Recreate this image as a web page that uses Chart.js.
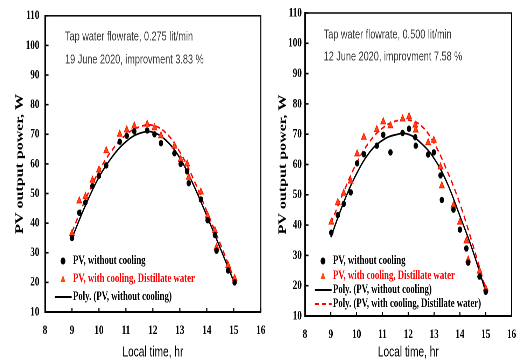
<!DOCTYPE html>
<html>
<head>
<meta charset="utf-8">
<script src="https://cdn.jsdelivr.net/npm/chart.js@4.4.1/dist/chart.umd.min.js"></script>
<style>
html, body { margin:0; padding:0; background:#fff; width:524px; height:363px; overflow:hidden; position:relative; }
/* the original figure is squeezed sideways, so each chart is drawn wide and scaled down */
.box { position:absolute; top:0; height:363px; transform:scaleX(0.7); transform-origin:0 0; }
#leftBox { left:0; width:390px; }
#rightBox { left:262px; width:374px; }
</style>
</head>
<body>
<div class="box" id="leftBox"><canvas id="leftChart"></canvas></div>
<div class="box" id="rightBox"><canvas id="rightChart"></canvas></div>
<script>
//Left panel: 0.275 lit/min, 19 June 2020
var leftTime      = [9.0, 9.27, 9.5, 9.76, 10.0, 10.27, 10.77, 11.03, 11.31, 11.79, 12.06, 12.3, 12.8, 13.03, 13.27, 13.33, 13.78, 14.03, 14.3, 14.36, 14.79, 15.03];
var leftNoCooling = [35, 43.5, 47, 52.5, 56, 59.5, 67.5, 69.5, 71, 71.3, 70, 67, 63.6, 60, 57.5, 53.5, 48, 41, 36, 30.7, 24, 20];
var leftCooling   = [36.5, 47.5, 49, 54.5, 58, 64.5, 70, 71.5, 72.8, 73.4, 72.2, 69.5, 66, 61.5, 60, 55.5, 50.5, 42.5, 37.5, 31.8, 25.7, 21.3];
var leftFitTime      = [9, 9.5, 10, 10.5, 11, 11.5, 12, 12.5, 13, 13.5, 14, 14.5, 15];
var leftFitNoCooling = [35, 46, 55.5, 62.5, 67.5, 70.3, 70.7, 67.8, 62, 53, 42.5, 31.5, 20.3];
var leftFitCooling   = [37, 48, 57.5, 64.8, 69.8, 72.5, 73, 70.3, 64, 55, 44, 33, 21.5];
var leftNotes = ["Tap water flowrate, 0.275 lit/min", "19 June 2020, improvment 3.83 %"];

//Right panel: 0.500 lit/min, 12 June 2020
var rightTime      = [9.02, 9.27, 9.5, 9.77, 10.02, 10.28, 10.78, 11.03, 11.31, 11.78, 12.03, 12.27, 12.29, 12.77, 12.99, 13.25, 13.3, 13.75, 14.0, 14.25, 14.32, 14.76, 15.0];
var rightNoCooling = [37.5, 43.3, 47, 50.8, 60.4, 63.4, 66.2, 69.8, 64, 70.4, 71.8, 69, 66.2, 63.3, 64, 56.4, 48.3, 45.1, 38.5, 32.3, 27.6, 23, 18];
var rightCooling   = [41, 47.4, 50.5, 54.5, 63.5, 69, 71.5, 74.1, 72.8, 75, 75.8, 73, 71.4, 67.2, 68, 59.2, 53, 46.5, 41, 34.8, 28.5, 24.8, 19];
var rightFitTime      = [9, 9.5, 10, 10.5, 11, 11.5, 12, 12.5, 13, 13.5, 14, 14.5, 15];
var rightFitNoCooling = [36, 47.5, 57, 64, 68, 69.8, 70, 67, 62, 54, 43, 31.5, 18];
var rightFitCooling   = [40.5, 51, 60.5, 67.5, 72, 74.3, 74.7, 72.8, 67, 58, 47, 33.5, 19];
var rightNotes = ["Tap water flowrate, 0.500 lit/min", "12 June 2020, improvment 7.58 %"];

//Shared labels
var seriesLabels = ["PV, without cooling", "PV, with cooling, Distillate water",
                    "Poly. (PV, without cooling)", "Poly. (PV, with cooling, Distillate water)"];
var xTitle = "Local time, hr";
var yTitle = "PV output power, W";

var serif = "'Liberation Serif', 'Times New Roman', serif";
var sans = "'Liberation Sans', Arial, sans-serif";

function pairs(xs, ys){
  var out = [];
  for(var i = 0; i < xs.length; i++){
    out.push({x: xs[i], y: ys[i]});
  }
  return out;
}

//Draws frame, inner ticks, notes and the legend
var decorPlugin = {
  id: 'decor',
  afterDraw: function(chart){
    var o = chart.options.plugins.decor;
    var ctx = chart.ctx, a = chart.chartArea;
    var xs = chart.scales.x, ys = chart.scales.y;
    ctx.save();
    ctx.strokeStyle = '#000';
    ctx.lineWidth = 1.5;
    ctx.strokeRect(a.left, a.top, a.right - a.left, a.bottom - a.top);

    ctx.lineWidth = 1.6;
    ys.ticks.forEach(function(t){
      var y = ys.getPixelForValue(t.value);
      ctx.beginPath(); ctx.moveTo(a.left, y); ctx.lineTo(a.left + 5, y); ctx.stroke();
    });
    xs.ticks.forEach(function(t){
      var x = xs.getPixelForValue(t.value);
      ctx.beginPath(); ctx.moveTo(x, a.bottom); ctx.lineTo(x, a.bottom - 4); ctx.stroke();
    });

    //notes
    ctx.font = '13px ' + sans;
    ctx.fillStyle = '#3a3a3a';
    ctx.textBaseline = 'middle';
    o.notes.forEach(function(txt, i){
      ctx.fillText(txt, a.left + o.noteX, o.noteY[i]);
    });

    //legend
    ctx.font = 'bold 12.5px ' + serif;
    o.legend.forEach(function(idx, row){
      var ds = chart.data.datasets[idx];
      var y = o.legendY[row];
      var mx = a.left + o.markX;
      if(ds.showLine){
        ctx.save();
        ctx.strokeStyle = ds.borderColor;
        ctx.lineWidth = 2;
        ctx.setLineDash(ds.borderDash || []);
        ctx.beginPath(); ctx.moveTo(a.left + o.lineX[0], y); ctx.lineTo(a.left + o.lineX[1], y); ctx.stroke();
        ctx.restore();
      } else if(ds.pointStyle == 'triangle'){
        ctx.fillStyle = ds.backgroundColor;
        ctx.beginPath(); ctx.moveTo(mx, y - 4); ctx.lineTo(mx + 3.5, y + 3); ctx.lineTo(mx - 3.5, y + 3); ctx.closePath(); ctx.fill();
      } else {
        ctx.fillStyle = '#000';
        ctx.beginPath(); ctx.arc(mx, y, 3.5, 0, Math.PI * 2); ctx.fill();
      }
      ctx.fillStyle = ds.textColor;
      ctx.fillText(ds.label, a.left + o.textX, y);
    });
    ctx.restore();
  }
};

function makeChart(id, time, noCool, cool, fitTime, fitNoCool, fitCool, notes, layout){
  var ctx = document.getElementById(id).getContext('2d');
  return new Chart(ctx, {
    type: 'scatter',
    data: {
      datasets: [
        {label: seriesLabels[0], data: pairs(time, noCool), pointStyle: 'circle', pointRadius: 3.2,
         backgroundColor: '#000', borderColor: '#000', borderWidth: 0, textColor: '#000'},
        {label: seriesLabels[1], data: pairs(time, cool), pointStyle: 'triangle', pointRadius: 4,
         backgroundColor: '#ff4a10', borderColor: '#ff1a00', borderWidth: 1, textColor: '#ff0000'},
        {label: seriesLabels[2], data: pairs(fitTime, fitNoCool), showLine: true, pointRadius: 0,
         borderColor: '#000', borderWidth: 1.8, tension: 0.4, textColor: '#000'},
        {label: seriesLabels[3], data: pairs(fitTime, fitCool), showLine: true, pointRadius: 0,
         borderColor: '#ff0000', borderWidth: 1.8, borderDash: [6, 4], tension: 0.4, textColor: '#000'}
      ]
    },
    options: {
      responsive: true,
      maintainAspectRatio: false,
      animation: false,
      devicePixelRatio: 2,
      layout: {padding: {left: 0, top: 13, right: layout.padRight, bottom: 0}},
      plugins: {
        legend: {display: false},
        tooltip: {enabled: false},
        decor: {
          notes: notes, noteX: layout.noteX, noteY: layout.noteY,
          legend: layout.legend, legendY: layout.legendY,
          markX: 25.7, textX: 40, lineX: [14, 38]
        }
      },
      scales: {
        x: {
          type: 'linear', min: 8, max: 16,
          ticks: {stepSize: 1, padding: 11, color: '#000', font: {family: serif, size: 13, weight: 'bold'}},
          grid: {display: false, drawTicks: false},
          border: {display: true, color: '#000', width: 2},
          title: {display: true, text: xTitle, color: '#000', padding: {top: 0, bottom: 2},
                  font: {family: sans, size: 14.5}},
          afterFit: function(s){ s.height = layout.xHeight; }
        },
        y: {
          min: 10, max: 110,
          ticks: {stepSize: 10, padding: layout.yPad, color: '#000', font: {family: serif, size: 13, weight: 'bold'}},
          grid: {display: false, drawTicks: false},
          border: {display: true, color: '#000', width: 2},
          title: {display: true, text: yTitle, color: '#000', padding: {top: layout.yTitlePad, bottom: 0},
                  font: {family: serif, size: 16, weight: 'bold'}},
          afterFit: function(s){ s.width = layout.yWidth; }
        }
      }
    },
    plugins: [decorPlugin]
  });
}

window.onload = function(){
  makeChart('leftChart', leftTime, leftNoCooling, leftCooling, leftFitTime, leftFitNoCooling, leftFitCooling, leftNotes,
    {padRight: 11.4, xHeight: 51, yWidth: 64.3, yPad: 8, yTitlePad: 19,
     noteX: 28.6, noteY: [37, 60], legend: [0, 1, 2], legendY: [261, 279, 297]});
  makeChart('rightChart', rightTime, rightNoCooling, rightCooling, rightFitTime, rightFitNoCooling, rightFitCooling, rightNotes,
    {padRight: 10, xHeight: 47, yWidth: 61.4, yPad: 4.5, yTitlePad: 20.4,
     noteX: 26.7, noteY: [35, 57], legend: [0, 1, 2, 3], legendY: [261, 276, 290, 304]});
};
</script>
</body>
</html>
